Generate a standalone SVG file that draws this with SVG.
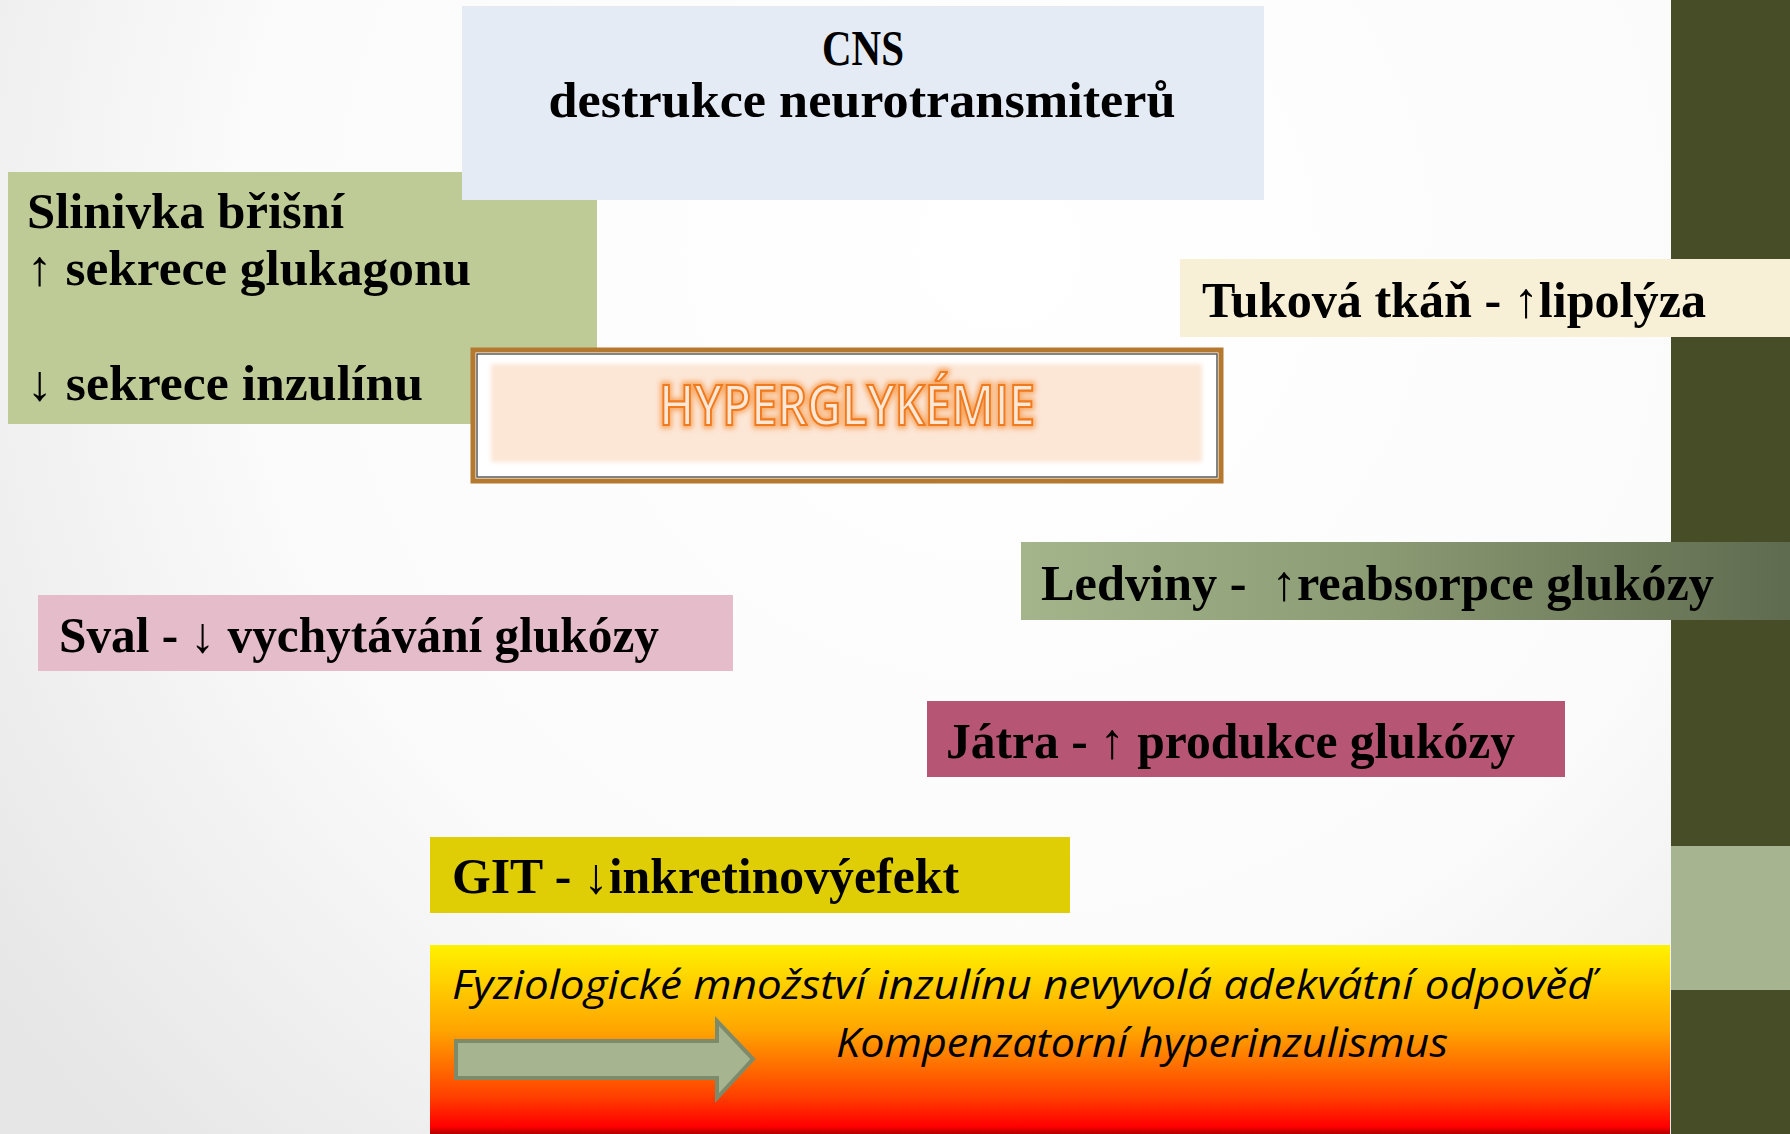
<svg xmlns="http://www.w3.org/2000/svg" width="1790" height="1134" viewBox="0 0 1790 1134">
<defs>
<radialGradient id="bg" cx="1000" cy="250" r="1250" gradientUnits="userSpaceOnUse">
<stop offset="0" stop-color="#ffffff"/>
<stop offset="0.6" stop-color="#fbfbfb"/>
<stop offset="1" stop-color="#e6e6e6"/>
</radialGradient>
<linearGradient id="ledG" x1="1021" y1="0" x2="1790" y2="0" gradientUnits="userSpaceOnUse">
<stop offset="0" stop-color="#a4b58c"/>
<stop offset="0.45" stop-color="#8c9c74"/>
<stop offset="1" stop-color="#5f6b4f"/>
</linearGradient>
<linearGradient id="botG" x1="0" y1="945" x2="0" y2="1134" gradientUnits="userSpaceOnUse">
<stop offset="0" stop-color="#fff200"/>
<stop offset="0.45" stop-color="#ffa500"/>
<stop offset="0.8" stop-color="#ff4000"/>
<stop offset="0.96" stop-color="#ff0000"/>
<stop offset="1" stop-color="#b00000"/>
</linearGradient>
<filter id="glow" x="-10%" y="-30%" width="120%" height="160%">
<feGaussianBlur stdDeviation="2.5"/>
</filter>
<filter id="soft" x="-5%" y="-10%" width="110%" height="120%">
<feGaussianBlur stdDeviation="2"/>
</filter>
</defs>
<style>
.lbl{font-family:"Liberation Serif","DejaVu Serif",serif;font-weight:bold;font-size:50px;fill:#000}
.it{font-family:"Open Sans","Noto Sans","Liberation Sans",sans-serif;font-style:italic;font-size:40px;fill:#000}
.hyp{font-family:"Open Sans","Noto Sans","Liberation Sans",sans-serif;font-size:56px;font-weight:600}
</style>
<rect x="0" y="0" width="1790" height="1134" fill="url(#bg)"/>
<g id="sidebar">
<rect x="1671" y="0" width="119" height="1134" fill="#474e27"/>
<rect x="1671" y="846" width="119" height="144" fill="#a6b48f"/>
</g>
<g id="slinivka">
<rect x="8" y="172" width="589" height="252" fill="#bfcb97"/>
<text class="lbl" x="27" y="228" textLength="317" lengthAdjust="spacingAndGlyphs">Slinivka břišní</text>
<text class="lbl" x="27" y="285" textLength="444" lengthAdjust="spacingAndGlyphs">↑ sekrece glukagonu</text>
<text class="lbl" x="27" y="400" textLength="396" lengthAdjust="spacingAndGlyphs">↓ sekrece inzulínu</text>
</g>
<g id="cns">
<rect x="462" y="6" width="802" height="194" fill="#e4ebf4"/>
<text class="lbl" x="863" y="65" text-anchor="middle" textLength="82" lengthAdjust="spacingAndGlyphs">CNS</text>
<text class="lbl" x="862" y="117" text-anchor="middle" textLength="627" lengthAdjust="spacingAndGlyphs">destrukce neurotransmiterů</text>
</g>
<g id="hyperglykemie">
<rect x="473" y="350" width="748" height="131" fill="#ffffff" stroke="#b5782f" stroke-width="5"/>
<rect x="477" y="354" width="740" height="123" fill="none" stroke="#5a5a5a" stroke-width="1.5"/>
<rect x="491" y="364" width="711" height="98" fill="#fce6d6" filter="url(#soft)"/>
<text class="hyp" x="659" y="425" textLength="376" lengthAdjust="spacingAndGlyphs" fill="none" stroke="#f79a4a" stroke-width="7" filter="url(#glow)" opacity="0.8">HYPERGLYKÉMIE</text>
<text class="hyp" x="659" y="425" textLength="376" lengthAdjust="spacingAndGlyphs" fill="#fde8d8" stroke="#f07a1e" stroke-width="2.2">HYPERGLYKÉMIE</text>
</g>
<g id="tukova">
<rect x="1180" y="259" width="610" height="78" fill="#f8f0d6"/>
<text class="lbl" x="1202" y="317" textLength="504" lengthAdjust="spacingAndGlyphs">Tuková tkáň - ↑lipolýza</text>
</g>
<g id="ledviny">
<rect x="1021" y="542" width="769" height="78" fill="url(#ledG)"/>
<text class="lbl" x="1041" y="600" textLength="673" lengthAdjust="spacingAndGlyphs" xml:space="preserve">Ledviny -  ↑reabsorpce glukózy</text>
</g>
<g id="sval">
<rect x="38" y="595" width="695" height="76" fill="#e4bcca"/>
<text class="lbl" x="59" y="652" textLength="600" lengthAdjust="spacingAndGlyphs">Sval - ↓ vychytávání glukózy</text>
</g>
<g id="jatra">
<rect x="927" y="701" width="638" height="76" fill="#b75574"/>
<text class="lbl" x="946" y="758" textLength="569" lengthAdjust="spacingAndGlyphs">Játra - ↑ produkce glukózy</text>
</g>
<g id="git">
<rect x="430" y="837" width="640" height="76" fill="#dfce06"/>
<text class="lbl" x="452" y="893" textLength="507" lengthAdjust="spacingAndGlyphs">GIT - ↓inkretinovýefekt</text>
</g>
<g id="fyziologie">
<rect x="430" y="945" width="1240" height="189" fill="url(#botG)"/>
<text class="it" x="452" y="999" textLength="1142" lengthAdjust="spacingAndGlyphs">Fyziologické množství inzulínu nevyvolá adekvátní odpověď</text>
<text class="it" x="836" y="1057" textLength="612" lengthAdjust="spacingAndGlyphs">Kompenzatorní hyperinzulismus</text>
</g>
<g id="connectors">
<polygon points="456,1041 717,1041 717,1021 753,1059 717,1098 717,1078 456,1078" fill="#a6b48f" stroke="#7e8b6b" stroke-width="4"/>
</g>
</svg>
